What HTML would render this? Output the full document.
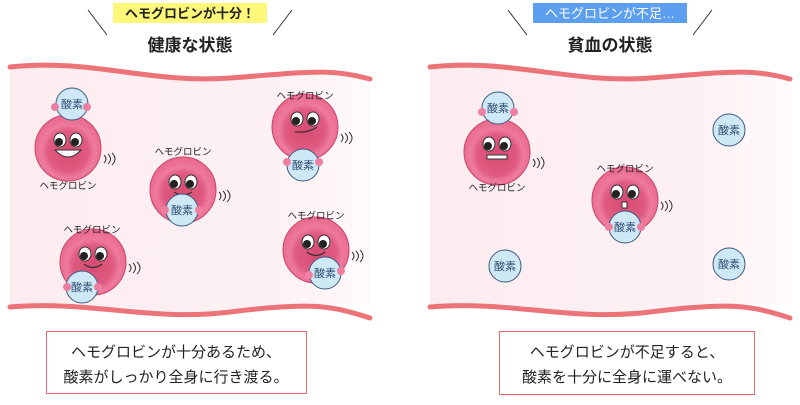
<!DOCTYPE html>
<html><head><meta charset="utf-8"><style>
body{margin:0;background:#fff;}
svg text{font-family:"Liberation Sans","Noto Sans CJK JP",sans-serif;}
</style></head><body>
<svg width="800" height="400" viewBox="0 0 800 400" xmlns="http://www.w3.org/2000/svg">
<defs>
<radialGradient id="cg" cx="50%" cy="55%" r="50%">
<stop offset="0" stop-color="#d94a72"/><stop offset="0.6" stop-color="#df5a80"/><stop offset="0.8" stop-color="#ee7a9c"/><stop offset="1" stop-color="#ea6d90"/>
</radialGradient>
<linearGradient id="vg" x1="0" x2="1" y1="0" y2="0">
<stop offset="0" stop-color="#fcecf0"/><stop offset="0.75" stop-color="#fdf1f4"/><stop offset="1" stop-color="#fffafb"/>
</linearGradient>
<g id="cell">
<circle r="33" fill="url(#cg)" stroke="#c9456b" stroke-width="1"/>
</g>
<g id="eyes">
<ellipse cx="-8" cy="-8" rx="6" ry="7" fill="#fff" stroke="#333" stroke-width="1"/>
<ellipse cx="8" cy="-8" rx="6" ry="7" fill="#fff" stroke="#333" stroke-width="1"/>
<circle cx="-9" cy="-6" r="4" fill="#222"/><circle cx="7" cy="-6" r="4" fill="#222"/>
</g>
<g id="wave"><path d="M36 172 q4 4 0 8 M40 171 q5 5 0 10 M44 170 q6 6 0 12" fill="none" stroke="#333" stroke-width="1"/></g>
</defs>

<!-- vessels -->
<path d="M10 67 C 90 58, 150 84, 230 78 S 330 68, 370 79 L370 306 C 300 296, 230 322, 150 312 S 50 300, 10 307 Z" fill="url(#vg)"/>
<path d="M10 67 C 90 58, 150 84, 230 78 S 330 68, 370 79" fill="none" stroke="#ec7377" stroke-width="5" stroke-linecap="round"/>
<path d="M10 307 C 90 300, 150 322, 230 312 S 330 305, 370 318" fill="none" stroke="#ec7377" stroke-width="5" stroke-linecap="round"/>
<path d="M430 67 C 510 58, 570 84, 650 78 S 750 68, 790 79 L790 306 C 720 296, 650 322, 570 312 S 470 300, 430 307 Z" fill="url(#vg)"/>
<path d="M430 67 C 510 58, 570 84, 650 78 S 750 68, 790 79" fill="none" stroke="#ec7377" stroke-width="5" stroke-linecap="round"/>
<path d="M430 307 C 510 300, 570 322, 650 312 S 750 305, 790 318" fill="none" stroke="#ec7377" stroke-width="5" stroke-linecap="round"/>

<!-- headers -->
<rect x="113" y="3" width="154" height="20" fill="#fdf87a"/>
<text x="190" y="18" font-size="13" text-anchor="middle" fill="#222" font-weight="bold">ヘモグロビンが十分！</text>
<text x="190" y="51" font-size="17" text-anchor="middle" fill="#222" font-weight="bold">健康な状態</text>
<line x1="88" y1="10" x2="107" y2="35" stroke="#333"/><line x1="292" y1="10" x2="273" y2="35" stroke="#333"/>
<rect x="533" y="3" width="154" height="20" fill="#5c9ef0"/>
<text x="610" y="18" font-size="13" text-anchor="middle" fill="#fff">ヘモグロビンが不足…</text>
<text x="610" y="51" font-size="17" text-anchor="middle" fill="#222" font-weight="bold">貧血の状態</text>
<line x1="508" y1="10" x2="527" y2="35" stroke="#333"/><line x1="712" y1="10" x2="693" y2="35" stroke="#333"/>

<g font-size="9.5" text-anchor="middle" fill="#222">
<!-- A -->
<g transform="translate(68,148)"><use href="#cell"/><use href="#eyes"/>
<path d="M-13 2 Q0 16 13 2 Z" fill="#fff" stroke="#333"/><use href="#wave" transform="translate(0,-165)"/></g>
<circle cx="72" cy="104" r="16" fill="#cfe8f6" stroke="#3a5a80"/><text x="72" y="108" font-size="11" fill="#2d4a70">酸素</text>
<circle cx="55" cy="107" r="4" fill="#ee7fa0"/><circle cx="87" cy="107" r="4" fill="#ee7fa0"/>
<text x="68" y="189">ヘモグロビン</text>
<!-- B -->
<g transform="translate(183,190)"><use href="#cell"/><use href="#eyes"/><path d="M-9 2 Q0 8 9 2" fill="none" stroke="#333" stroke-width="1.3"/><use href="#wave" transform="translate(0,-170)"/></g>
<text x="183" y="155">ヘモグロビン</text>
<circle cx="182" cy="210" r="16" fill="#cfe8f6" stroke="#3a5a80"/><text x="182" y="214" font-size="11" fill="#2d4a70">酸素</text>
<circle cx="165" cy="210" r="4" fill="#ee7fa0"/><circle cx="199" cy="210" r="4" fill="#ee7fa0"/>
<!-- C -->
<g transform="translate(305,127)"><use href="#cell"/><use href="#eyes"/><path d="M-10 5 Q4 6 12 0" fill="none" stroke="#333" stroke-width="1.3"/><use href="#wave" transform="translate(0,-165)"/></g>
<text x="305" y="99">ヘモグロビン</text>
<circle cx="303" cy="165" r="16" fill="#cfe8f6" stroke="#3a5a80"/><text x="303" y="169" font-size="11" fill="#2d4a70">酸素</text>
<circle cx="287" cy="162" r="4" fill="#ee7fa0"/><circle cx="319" cy="162" r="4" fill="#ee7fa0"/>
<!-- D -->
<g transform="translate(93,262)"><use href="#cell"/><use href="#eyes"/><path d="M-9 2 Q0 9 9 2" fill="none" stroke="#333" stroke-width="1.3"/><use href="#wave" transform="translate(0,-170)"/></g>
<text x="92" y="233">ヘモグロビン</text>
<circle cx="82" cy="287" r="16" fill="#cfe8f6" stroke="#3a5a80"/><text x="82" y="291" font-size="11" fill="#2d4a70">酸素</text>
<circle cx="67" cy="287" r="4" fill="#ee7fa0"/><circle cx="98" cy="287" r="4" fill="#ee7fa0"/>
<!-- E -->
<g transform="translate(316,250)"><use href="#cell"/><use href="#eyes"/><path d="M-9 2 Q0 9 9 2" fill="none" stroke="#333" stroke-width="1.3"/><use href="#wave" transform="translate(0,-170)"/></g>
<text x="316" y="219">ヘモグロビン</text>
<circle cx="325" cy="273" r="16" fill="#cfe8f6" stroke="#3a5a80"/><text x="325" y="277" font-size="11" fill="#2d4a70">酸素</text>
<circle cx="309" cy="275" r="4" fill="#ee7fa0"/><circle cx="341" cy="271" r="4" fill="#ee7fa0"/>

<!-- F -->
<g transform="translate(497,152)"><use href="#cell"/><use href="#eyes"/><rect x="-10" y="3" width="20" height="4" fill="#fff" stroke="#333"/><use href="#wave" transform="translate(0,-165)"/></g>
<circle cx="498" cy="108" r="16" fill="#cfe8f6" stroke="#3a5a80"/><text x="498" y="112" font-size="11" fill="#2d4a70">酸素</text>
<circle cx="482" cy="112" r="4" fill="#ee7fa0"/><circle cx="514" cy="112" r="4" fill="#ee7fa0"/>
<text x="497" y="191">ヘモグロビン</text>
<!-- G -->
<g transform="translate(625,200)"><use href="#cell"/><use href="#eyes"/><rect x="-3" y="2" width="5" height="6" fill="#fff" stroke="#333"/><use href="#wave" transform="translate(0,-170)"/></g>
<text x="625" y="172">ヘモグロビン</text>
<circle cx="625" cy="227" r="16" fill="#cfe8f6" stroke="#3a5a80"/><text x="625" y="231" font-size="11" fill="#2d4a70">酸素</text>
<circle cx="609" cy="227" r="4" fill="#ee7fa0"/><circle cx="641" cy="227" r="4" fill="#ee7fa0"/>
<!-- free O2 -->
<circle cx="729" cy="130" r="16" fill="#cfe8f6" stroke="#3a5a80"/><text x="729" y="134" font-size="11" fill="#2d4a70">酸素</text>
<circle cx="505" cy="266" r="16" fill="#cfe8f6" stroke="#3a5a80"/><text x="505" y="270" font-size="11" fill="#2d4a70">酸素</text>
<circle cx="729" cy="264" r="16" fill="#cfe8f6" stroke="#3a5a80"/><text x="729" y="268" font-size="11" fill="#2d4a70">酸素</text>
</g>

<!-- boxes -->
<rect x="46.5" y="331.5" width="260" height="62" fill="#fff" stroke="#e8686e"/>
<text x="176" y="357" font-size="15" text-anchor="middle" fill="#222">ヘモグロビンが十分あるため、</text>
<text x="176" y="382" font-size="15" text-anchor="middle" fill="#222">酸素がしっかり全身に行き渡る。</text>
<rect x="499.5" y="331.5" width="255" height="63" fill="#fff" stroke="#e8686e"/>
<text x="627" y="357" font-size="15" text-anchor="middle" fill="#222">ヘモグロビンが不足すると、</text>
<text x="627" y="382" font-size="15" text-anchor="middle" fill="#222">酸素を十分に全身に運べない。</text>
</svg>
</body></html>
